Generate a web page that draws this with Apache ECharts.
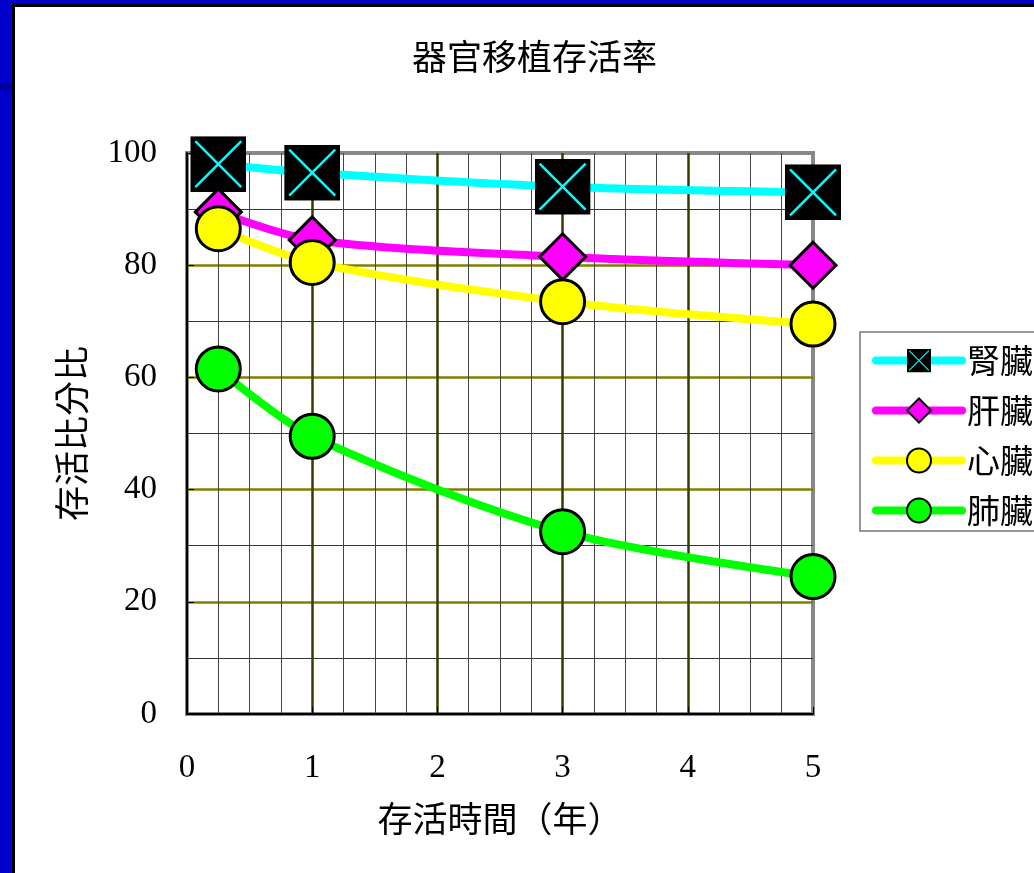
<!DOCTYPE html>
<html>
<head>
<meta charset="utf-8">
<script src="https://cdn.jsdelivr.net/npm/echarts@6/dist/echarts.min.js"></script>
<style>
  html, body { margin: 0; padding: 0; width: 1034px; height: 873px; overflow: hidden; background: #0000cc; }
  .band { position: absolute; left: 0; top: 83px; width: 12px; height: 7px; background: #00009a; }
  .frame { position: absolute; left: 12px; top: 4px; right: 0; bottom: 0; border-left: 3px solid #000; border-top: 3px solid #000; background: #fff; }
  #chart { position: absolute; left: 0; top: 0; width: 1019px; height: 866px; }
</style>
</head>
<body>
<div class="band"></div>
<div class="frame"><div id="chart"></div></div>
<script>
// 資料
var years = [0.25, 1, 3, 5];
var kidney = [98, 96.5, 94, 93];
var liver = [89.5, 84.5, 81.5, 80];
var heart = [86.5, 80.5, 73.5, 69.5];
var lung = [61.5, 49.5, 32.5, 24.5];
var names = ['腎臟', '肝臟', '心臟', '肺臟'];
var xTicks = [0, 1, 2, 3, 4, 5];
var yTicks = [0, 20, 40, 60, 80, 100];

function pairs(ys) {
  return years.map(function (x, i) { return [x, ys[i]]; });
}

// 黑底青色叉叉的方塊
var boxSvg = '<svg xmlns="http://www.w3.org/2000/svg" width="56" height="56" viewBox="0 0 56 56">' +
  '<rect x="0" y="0" width="56" height="56" fill="#000"/>' +
  '<path d="M5 5 L51 51 M51 5 L5 51" stroke="#00ffff" stroke-width="2.5"/></svg>';
var boxSymbol = 'image://data:image/svg+xml;utf8,' + encodeURIComponent(boxSvg);

var cjk = '"Noto Sans CJK TC", "Noto Sans CJK SC", sans-serif';
var serif = '"Liberation Serif", "DejaVu Serif", serif';

var myChart = echarts.init(document.getElementById('chart'));
var option = {
  animation: false,
  backgroundColor: '#fff',
  title: {
    text: '器官移植存活率',
    left: 392,
    top: 27,
    textStyle: { fontFamily: cjk, fontSize: 35, fontWeight: 'normal', color: '#000' }
  },
  legend: {
    data: names,
    orient: 'vertical',
    left: 845,
    top: 325,
    padding: [12, 40, 4, 12],
    itemWidth: 86,
    itemHeight: 30,
    itemGap: 17,
    borderColor: '#777',
    borderWidth: 1.5,
    lineStyle: { width: 8, cap: 'round' },
    textStyle: { fontFamily: cjk, fontSize: 33, color: '#000', padding: [0, 0, 0, 0] }
  },
  grid: {
    left: 172,
    top: 146,
    width: 626,
    height: 561,
    show: true,
    borderColor: '#888',
    borderWidth: 4,
    backgroundColor: '#fff'
  },
  xAxis: {
    type: 'value',
    min: 0,
    max: 5,
    interval: 1,
    name: '存活時間（年）',
    nameLocation: 'middle',
    nameGap: 87,
    nameTextStyle: { fontFamily: cjk, fontSize: 35, color: '#000' },
    axisLine: { lineStyle: { color: '#000', width: 2 } },
    axisTick: { inside: true, length: 7, lineStyle: { color: '#000' } },
    axisLabel: {
      margin: 38, fontFamily: serif, fontSize: 33, color: '#000',
      formatter: function (v) { return xTicks.indexOf(v) >= 0 ? String(v) : ''; }
    },
    splitLine: { showMinLine: false, showMaxLine: false, lineStyle: { color: '#3a3a00', width: 2.5 } },
    minorTick: { show: true, splitNumber: 4, length: 0 },
    minorSplitLine: { show: true, lineStyle: { color: '#444', width: 1 } }
  },
  yAxis: {
    type: 'value',
    min: 0,
    max: 100,
    interval: 20,
    name: '存活比分比',
    nameLocation: 'middle',
    nameGap: 98,
    nameRotate: 90,
    nameTextStyle: { fontFamily: cjk, fontSize: 35, color: '#000' },
    axisLine: { show: true, lineStyle: { color: '#000', width: 2 } },
    axisTick: { show: true, inside: true, length: 7, lineStyle: { color: '#000' } },
    axisLabel: {
      margin: 30, fontFamily: serif, fontSize: 33, color: '#000',
      formatter: function (v) { return yTicks.indexOf(v) >= 0 ? String(v) : ''; }
    },
    splitLine: { showMinLine: false, showMaxLine: false, lineStyle: { color: '#808000', width: 2.5 } },
    minorTick: { show: true, splitNumber: 2, length: 0 },
    minorSplitLine: { show: true, lineStyle: { color: '#333', width: 1 } }
  },
  series: [
    {
      name: names[0], type: 'line', smooth: 0.3, clip: false,
      data: pairs(kidney),
      symbol: boxSymbol, symbolSize: 56,
      lineStyle: { color: '#00ffff', width: 8 },
      itemStyle: { color: '#00ffff' }
    },
    {
      name: names[1], type: 'line', smooth: 0.3, clip: false,
      data: pairs(liver),
      symbol: 'diamond', symbolSize: [46, 46],
      lineStyle: { color: '#ff00ff', width: 8 },
      itemStyle: { color: '#ff00ff', borderColor: '#000', borderWidth: 3 }
    },
    {
      name: names[2], type: 'line', smooth: 0.3, clip: false,
      data: pairs(heart),
      symbol: 'circle', symbolSize: 44,
      lineStyle: { color: '#ffff00', width: 8 },
      itemStyle: { color: '#ffff00', borderColor: '#000', borderWidth: 3 }
    },
    {
      name: names[3], type: 'line', smooth: 0.3, clip: false,
      data: pairs(lung),
      symbol: 'circle', symbolSize: 44,
      lineStyle: { color: '#00ff00', width: 8 },
      itemStyle: { color: '#00ff00', borderColor: '#000', borderWidth: 3 }
    }
  ]
};
myChart.setOption(option);
</script>
</body>
</html>
